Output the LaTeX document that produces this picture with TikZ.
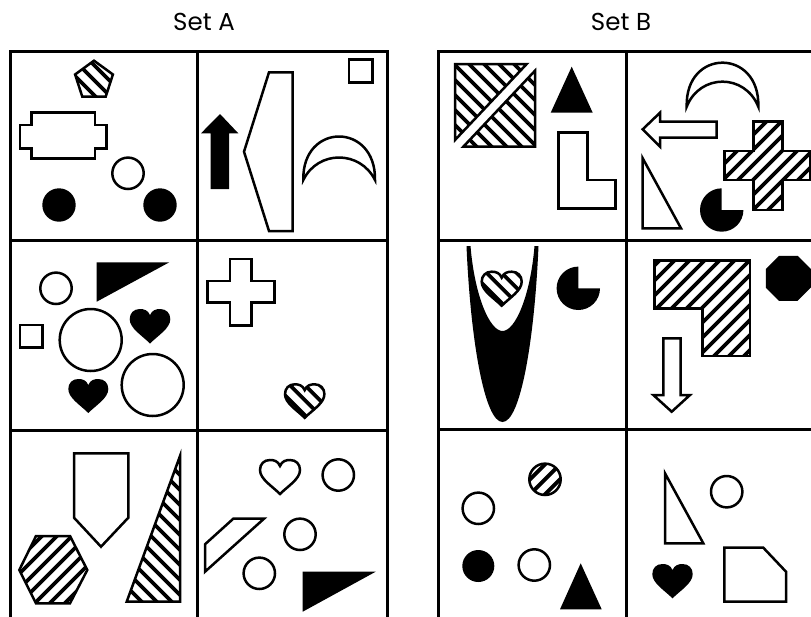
\documentclass[tikz,border=0pt]{standalone}
\usepackage{fontspec}
\setmainfont{Poppins}
\tikzset{
  shp/.style={draw=black, line width=2.5pt, fill=white},
  gridline/.style={draw=black, line width=3pt},
  lbl/.style={font=\fontsize{24.5}{28}\selectfont, inner sep=0pt}
}
\newcommand\hatched[4]{%
  \begin{scope}
    \clip #1;
    \foreach \k in {-10,...,10}
      \draw[line width=3.8pt] ({#2+\k*15-90},{#3+90*#4}) -- ({#2+\k*15+90},{#3-90*#4});
  \end{scope}
  \draw[line width=2.5pt] #1;
}
\newcommand\heartp[3]{(#1,{#2+0.3*#3}) .. controls ({#1+0.1*#3},{#2+0.05*#3}) and ({#1+0.3*#3},#2) .. ({#1+0.5*#3},#2) .. controls ({#1+0.8*#3},#2) and ({#1+#3},{#2+0.2*#3}) .. ({#1+#3},{#2+0.5*#3}) .. controls ({#1+#3},{#2+0.95*#3}) and ({#1+0.4*#3},{#2+1.3*#3}) .. (#1,{#2+1.7*#3}) .. controls ({#1-0.4*#3},{#2+1.3*#3}) and ({#1-#3},{#2+0.95*#3}) .. ({#1-#3},{#2+0.5*#3}) .. controls ({#1-#3},{#2+0.2*#3}) and ({#1-0.8*#3},#2) .. ({#1-0.5*#3},#2) .. controls ({#1-0.3*#3},#2) and ({#1-0.1*#3},{#2+0.05*#3}) .. (#1,{#2+0.3*#3}) -- cycle}
\newcommand\pacp[3]{(#1,#2) -- ({#1+#3},#2) arc[start angle=0, end angle=-270, radius=#3pt] -- cycle}
\begin{document}
\begin{tikzpicture}[x=1pt, y=-1pt]
\clip (0,0) rectangle (811,616);
\fill[white] (0,0) rectangle (811,616);
% titles
\node[lbl] (setA) at (204,22) {Set A};
\node[lbl] (setB) at (621,22) {Set B};
% grids
\draw[gridline] (10,51.7) rectangle (387.7,625);
\draw[gridline] (197.7,51.7) -- (197.7,625);
\draw[gridline] (10,240) -- (387.7,240);
\draw[gridline] (10,430) -- (387.7,430);
\draw[gridline] (438.3,51.7) rectangle (820,625);
\draw[gridline] (626.7,51.7) -- (626.7,625);
\draw[gridline] (438.3,240) -- (820,240);
\draw[gridline] (438.3,429.5) -- (820,429.5);
% ---- A1
\hatched{(94,60.7) -- (112.9,74.45) -- (105.7,96.7) -- (82.3,96.7) -- (75.1,74.45) -- cycle}{94}{80}{-1}
\draw[shp] (31.7,112.3) -- (95,112.3) -- (95,125) -- (106.7,125) -- (106.7,148.3) -- (95,148.3) -- (95,158.3) -- (31.7,158.3) -- (31.7,148.3) -- (20,148.3) -- (20,125) -- (31.7,125) -- cycle;
\draw[shp] (128,173.3) circle[radius=15.7pt];
\fill (59,205) circle[radius=16.7pt];
\fill (160,205) circle[radius=16.7pt];
% ---- A2
\draw[shp] (349,59.3) rectangle (372.3,82.7);
\fill (210.7,189) -- (210.7,133.3) -- (201,133.3) -- (220,114) -- (238.3,133.3) -- (229,133.3) -- (229,189) -- cycle;
\draw[shp] (269,72.3) -- (292.7,72.3) -- (292.7,231) -- (269,231) -- (244,151.7) -- cycle;
\draw[shp] (303.3,180) .. controls (302,122) and (376,122) .. (375,180) .. controls (360,150) and (318,150) .. (303.3,180) -- cycle;
% ---- A3
\draw[shp] (56,288.3) circle[radius=15.7pt];
\fill (96.7,262.3) -- (169.3,262.3) -- (96.7,301.7) -- cycle;
\draw[shp] (20,325) rectangle (42.7,347.7);
\draw[shp] (90.7,340) circle[radius=31pt];
\fill \heartp{150}{309}{20.3};
\draw[shp] (152.7,385) circle[radius=31pt];
\fill \heartp{88.3}{379}{20};
% ---- A4
\draw[shp] (230,259) -- (251.7,259) -- (251.7,281) -- (274.3,281) -- (274.3,302.7) -- (251.7,302.7) -- (251.7,325.7) -- (230,325.7) -- (230,302.7) -- (207.7,302.7) -- (207.7,281) -- (230,281) -- cycle;
\hatched{\heartp{304.7}{384.3}{19.7}}{304.7}{400}{-1}
% ---- A5
\draw[shp] (74,453.3) -- (128.3,453.3) -- (128.3,517.7) -- (101,546.7) -- (74,517.7) -- cycle;
\hatched{(36,536) -- (70,536) -- (87.3,570) -- (70,603.3) -- (36,603.3) -- (19.3,570) -- cycle}{53}{570}{1}
\hatched{(180,456) -- (180,601.7) -- (126.7,601.7) -- cycle}{165}{550}{-1}
% ---- A6
\draw[shp] \heartp{280}{460}{20};
\draw[shp] (338.3,475) circle[radius=15.7pt];
\draw[shp] (233.3,518.7) -- (264,518.7) -- (205,571.7) -- (205,544.3) -- cycle;
\draw[shp] (300,534.3) circle[radius=15.7pt];
\draw[shp] (259.3,573.3) circle[radius=15.7pt];
\fill (302.7,571.7) -- (375.7,571.7) -- (302.7,611.7) -- cycle;
% ---- B1
\hatched{(455,64) -- (526.7,64) -- (455,140) -- cycle}{490}{100}{-1}
\hatched{(535,70.7) -- (535,146.7) -- (463.3,146.7) -- cycle}{500}{110}{-1}
\fill (571.7,66.7) -- (592.7,112.7) -- (550.7,112.7) -- cycle;
\draw[shp] (558.3,132.7) -- (587.3,132.7) -- (587.3,180) -- (615.7,180) -- (615.7,208.3) -- (558.3,208.3) -- cycle;
% ---- B2
\draw[shp] (686.7,106.7) .. controls (685,48) and (760,48) .. (758.3,106.7) .. controls (745,73.3) and (700,73.3) .. (686.7,106.7) -- cycle;
\draw[shp] (642.7,129.3) -- (660,112.7) -- (660,121.7) -- (716.7,121.7) -- (716.7,137.7) -- (660,137.7) -- (660,146.7) -- cycle;
\hatched{(753.3,121.7) -- (782.3,121.7) -- (782.3,151) -- (810,151) -- (810,180) -- (782.3,180) -- (782.3,210) -- (753.3,210) -- (753.3,180) -- (724.3,180) -- (724.3,151) -- (753.3,151) -- cycle}{767}{166}{1}
\draw[shp] (642.7,158.3) -- (642.7,228.3) -- (681,228.3) -- cycle;
\fill \pacp{721.7}{210}{21.7};
% ---- B3
\fill (466.5,246) .. controls (470.5,340) and (484.5,422) .. (502.5,422) .. controls (520.5,422) and (534.5,340) .. (538.5,246) -- (534.5,246) .. controls (530.5,295) and (515.5,331) .. (502.5,331) .. controls (489.5,331) and (474.5,295) .. (470.5,246) -- cycle;
\hatched{\heartp{501.7}{271.7}{20}}{501.7}{288}{-1}
\fill \pacp{578.3}{288.3}{21.7};
% ---- B4
\hatched{(654.3,260.7) -- (750,260.7) -- (750,356) -- (702.7,356) -- (702.7,308.3) -- (654.3,308.3) -- cycle}{702}{308}{1}
\fill (779,255.8) -- (797.6,255.8) -- (810.8,269) -- (810.8,287.6) -- (797.6,300.8) -- (779,300.8) -- (765.8,287.6) -- (765.8,269) -- cycle;
\draw[shp] (663.3,338.3) -- (680.7,338.3) -- (680.7,395) -- (690,395) -- (671.7,411.7) -- (653.3,395) -- (663.3,395) -- cycle;
% ---- B5
\hatched{(545,479.3) circle[radius=15.7pt]}{545}{479.3}{1}
\draw[shp] (478.3,508.3) circle[radius=15.7pt];
\fill (478.3,566) circle[radius=16pt];
\draw[shp] (534.3,565) circle[radius=15.7pt];
\fill (580.7,563.3) -- (601.7,609.3) -- (560,609.3) -- cycle;
% ---- B6
\draw[shp] (665,473.3) -- (665,543.3) -- (703.3,543.3) -- cycle;
\draw[shp] (726.7,491.7) circle[radius=15.7pt];
\fill \heartp{672.5}{564}{20.2};
\draw[shp] (724.3,547.7) -- (763.3,547.7) -- (786,571.7) -- (786,601.7) -- (724.3,601.7) -- cycle;
\end{tikzpicture}
\end{document}
